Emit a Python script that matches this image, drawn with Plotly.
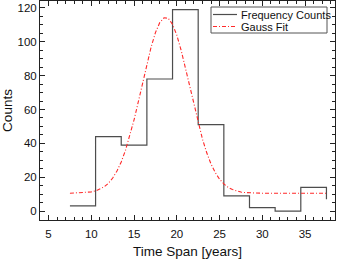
import plotly.graph_objects as go

# Histogram step data (bin left edges, counts); final point closes the step
bin_edges = [7.5, 10.5, 13.5, 16.5, 19.5, 22.5, 25.5, 28.5, 31.5, 34.5, 37.5]
counts = [3, 44, 39, 78, 119, 51, 9, 2, 0, 14, 7]

# Gauss fit curve
fit_x = [7.5, 8, 8.5, 9, 9.5, 10, 10.5, 11, 11.5, 12, 12.5, 13, 13.5, 14, 14.5,
         15, 15.5, 16, 16.5, 17, 17.5, 18, 18.5, 19, 19.5, 20, 20.5, 21, 21.5,
         22, 22.5, 23, 23.5, 24, 24.5, 25, 25.5, 26, 26.5, 27, 27.5, 28, 28.5,
         29, 30, 31, 32, 33, 34, 35, 36, 37, 37.5]
fit_y = [10.5, 10.6, 10.6, 10.8, 11.0, 11.3, 11.9, 12.9, 14.3, 16.4, 19.5, 23.6,
         29.0, 35.9, 44.3, 53.9, 64.6, 75.8, 86.9, 97.0, 105.4, 111.3, 114.2,
         113.9, 110.3, 103.9, 95.1, 84.7, 73.6, 62.4, 51.9, 42.5, 34.4, 27.8,
         22.7, 18.8, 16.0, 14.0, 12.7, 11.8, 11.2, 10.9, 10.7, 10.6, 10.5, 10.5,
         10.5, 10.5, 10.5, 10.5, 10.5, 10.5, 10.5]

series_names = ["Frequency Counts", "Gauss Fit"]
step_color = "#4d4d4d"
fit_color = "#ff2a2a"
fit_dash = "4px,2px,1px,2px"

W, H = 340, 259
ML, MR, MT, MB = 40, 5, 1, 39
PW, PH = W - ML - MR, H - MT - MB


def px(xp):
    return (xp - ML) / PW


def py(yp):
    return (H - MB - yp) / PH


fig = go.Figure()
fig.add_trace(go.Scatter(x=bin_edges, y=counts, mode="lines", line_shape="hv",
                         name=series_names[0], showlegend=False,
                         line=dict(color=step_color, width=1.2)))
fig.add_trace(go.Scatter(x=fit_x, y=fit_y, mode="lines", name=series_names[1],
                         showlegend=False,
                         line=dict(color=fit_color, width=1.1, dash=fit_dash)))

axis_common = dict(showline=True, linecolor="#222", linewidth=1, mirror="allticks",
                   ticks="inside", ticklen=5, tickcolor="#222", showgrid=False,
                   zeroline=False, automargin=False,
                   tickfont=dict(size=11.5, color="#111"))

fig.update_xaxes(range=[4.0, 38.5], tickvals=[5, 10, 15, 20, 25, 30, 35],
                 ticklabelstandoff=3,
                 title=dict(text="Time Span [years]", font=dict(size=13.5, color="#111"), standoff=9),
                 minor=dict(dtick=1, tick0=0, ticks="inside", ticklen=3, tickcolor="#222"),
                 **axis_common)
fig.update_yaxes(range=[-5.3, 124.1], tickvals=[0, 20, 40, 60, 80, 100, 120],
                 title=dict(text="Counts", font=dict(size=13.5, color="#111"), standoff=5),
                 minor=dict(dtick=5, tick0=0, ticks="inside", ticklen=3, tickcolor="#222"),
                 **axis_common)

# Manual legend (compact, like the reference)
shapes = [
    dict(type="rect", xref="paper", yref="paper", x0=px(211), x1=px(327),
         y0=py(33), y1=py(7), line=dict(color="#555", width=1), fillcolor="white",
         layer="above"),
    dict(type="line", xref="paper", yref="paper", x0=px(213), x1=px(237),
         y0=py(14.5), y1=py(14.5), line=dict(color=step_color, width=1.2), layer="above"),
    dict(type="line", xref="paper", yref="paper", x0=px(213), x1=px(237),
         y0=py(26.5), y1=py(26.5), line=dict(color=fit_color, width=1.1, dash=fit_dash),
         layer="above"),
]
annotations = [
    dict(xref="paper", yref="paper", x=px(239), y=py(14.5), text=series_names[0],
         showarrow=False, xanchor="left", yanchor="middle",
         font=dict(size=11, color="#111")),
    dict(xref="paper", yref="paper", x=px(239), y=py(26.5), text=series_names[1],
         showarrow=False, xanchor="left", yanchor="middle",
         font=dict(size=11, color="#111")),
]

fig.update_layout(
    width=W, height=H,
    margin=dict(l=ML, r=MR, t=MT, b=MB),
    paper_bgcolor="white", plot_bgcolor="white",
    font=dict(family="Liberation Sans, Arial, sans-serif"),
    showlegend=False,
    shapes=shapes, annotations=annotations,
)

fig.write_html("out.html", config={"displayModeBar": False},
               post_script="document.body.style.margin='0px';document.body.style.overflow='hidden';")
